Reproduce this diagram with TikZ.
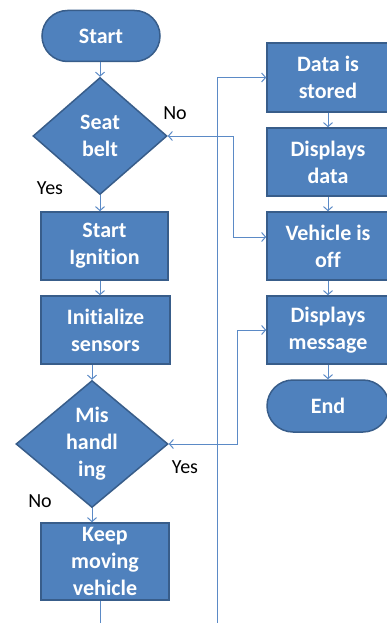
\documentclass[tikz,border=0pt]{standalone}
\usepackage{fontspec}
\setmainfont{Carlito}[Ligatures=NoCommon]
\usetikzlibrary{shapes.geometric,shapes.misc,arrows.meta}
\definecolor{boxfill}{HTML}{4F81BD}
\definecolor{boxline}{HTML}{385D8A}
\definecolor{conn}{HTML}{5B8AC6}
\tikzset{
  boxfont/.style={text=white,align=center,inner sep=0pt,
    font={\fontsize{22}{27}\selectfont\bfseries}},
  base/.style={fill=boxfill,draw=boxline,line width=1.5pt,boxfont},
  procbox/.style={base,rectangle,minimum width=#1,minimum height=68pt},
  procbox/.default=127pt,
  termbox/.style={base,rounded rectangle,minimum height=51pt},
  decbox/.style={fill=boxfill,draw=boxline,line width=1.5pt,diamond,inner sep=0pt},
  conline/.style={draw=conn,line width=1pt},
  tip/.style={-{Straight Barb[length=4pt,width=9pt]}},
  bothtip/.style={{Straight Barb[length=4pt,width=9pt]}-{Straight Barb[length=4pt,width=9pt]}},
  lbl/.style={font={\fontsize{20}{22}\selectfont},text=black,inner sep=0pt}
}
\begin{document}
\begin{tikzpicture}[x=1pt,y=-1pt]
\useasboundingbox (0,0) rectangle (387,623);
\clip (0,0) rectangle (387,623);
% left column
\node[termbox,minimum width=118pt] (start) at (101,36) {Start};
\node[decbox,minimum width=134pt,minimum height=117pt,
  label={[boxfont]center:Seat\\belt}] (sb) at (100,136) {};
\node[procbox] (si) at (104.5,246) {Start\\Ignition};
\node[procbox=129pt] (init) at (105.5,330) {Initialize\\sensors};
\node[decbox,minimum width=152pt,minimum height=127pt,
  label={[boxfont]center:Mis\\handl\\ing}] (mis) at (92,444) {};
\node[procbox=128pt,minimum height=77pt] (keep) at (105,561.5) {Keep\\moving\\vehicle};
% right column
\node[procbox=122pt,minimum height=69pt] (data) at (328,77.5) {Data is\\stored};
\node[procbox=122pt] (dd) at (328,162) {Displays\\data};
\node[procbox=122pt] (vo) at (328,246) {Vehicle is\\off};
\node[procbox=122pt] (dm) at (328,330) {Displays\\message};
\node[termbox,minimum width=122pt,minimum height=52pt] (end) at (328,406) {End};
% labels
\node[lbl] (lno1) at (175,113) {No};
\node[lbl] (lyes1) at (50,188) {Yes};
\node[lbl] (lyes2) at (185,467) {Yes};
\node[lbl] (lno2) at (40,501) {No};
% connectors
\draw[conline,tip] (start.south -| sb.north) -- (sb.north);
\draw[conline,tip] (sb.south) -- (sb.south |- si.north);
\draw[conline,tip] (sb.south |- si.south) -- (sb.south |- init.north);
\draw[conline,tip] (mis.north |- init.south) -- (mis.north);
\draw[conline,tip] (mis.south) -- (mis.south |- keep.north);
\draw[conline,tip] (data.south) -- (dd.north);
\draw[conline,tip] (dd.south) -- (vo.north);
\draw[conline,tip] (vo.south) -- (dm.north);
\draw[conline,tip] (dm.south) -- (end.north);
\draw[conline,bothtip] (sb.east) -- (233,136) |- ([yshift=9pt]vo.west);
\draw[conline,bothtip] (mis.east) -- (237,444) |- (dm.west);
\draw[conline,tip] (sb.south |- keep.south) -- (100,650) -- (217,650) |- (data.west);
\end{tikzpicture}
\end{document}
